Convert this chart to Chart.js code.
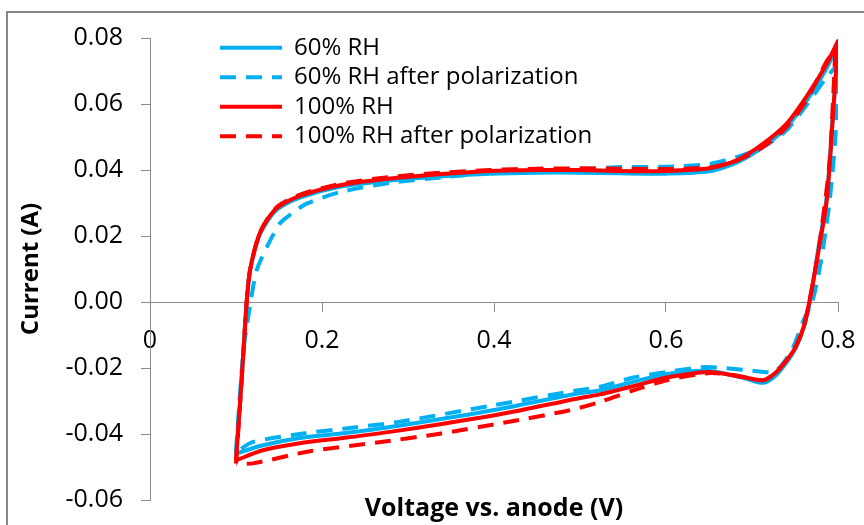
<!DOCTYPE html>
<html><head><meta charset="utf-8">
<script src="https://cdn.jsdelivr.net/npm/chart.js@4"></script>
<style>
html,body{margin:0;padding:0;background:#fff;overflow:hidden;}
#wrap{position:relative;width:864px;height:525px;background:#fff;}
#frame{position:absolute;left:6px;top:11px;width:900px;height:600px;border-left:2px solid #878787;border-top:2px solid #878787;pointer-events:none;}
canvas{display:block;}
</style></head><body>
<div id="wrap"><canvas id="c" width="864" height="525" style="width:864px;height:525px"></canvas><div id="frame"></div></div>
<script>
// ---- data ----
const seriesNames = ['60% RH', '60% RH after polarization', '100% RH', '100% RH after polarization'];
const xTickLabels = ['0', '0.2', '0.4', '0.6', '0.8'];
const yTickLabels = ['-0.06', '-0.04', '-0.02', '0.00', '0.02', '0.04', '0.06', '0.08'];
const xTitle = 'Voltage vs. anode (V)';
const yTitle = 'Current (A)';

const v60 = [0.100, 0.1047, 0.1085, 0.1124, 0.1163, 0.126, 0.136, 0.149, 0.176, 0.221, 0.279, 0.340, 0.395, 0.450, 0.500, 0.547, 0.600, 0.650, 0.682, 0.713, 0.740, 0.763, 0.787, 0.800, 0.800, 0.794, 0.787, 0.777, 0.768, 0.761, 0.751, 0.741, 0.728, 0.713, 0.690, 0.651, 0.601, 0.562, 0.523, 0.496, 0.407, 0.291, 0.225, 0.174, 0.130, 0.100];
const i60 = [-0.0460, -0.0305, -0.0155, 0.0000, 0.0094, 0.0193, 0.0243, 0.0283, 0.0318, 0.0349, 0.0368, 0.0381, 0.0389, 0.0392, 0.0392, 0.0390, 0.0389, 0.0396, 0.0422, 0.0470, 0.0530, 0.0608, 0.0710, 0.0778, 0.0778, 0.0560, 0.0320, 0.0160, 0.0010, -0.0070, -0.0138, -0.0180, -0.0222, -0.0245, -0.0230, -0.0209, -0.0218, -0.0242, -0.0268, -0.0278, -0.0324, -0.0374, -0.0398, -0.0412, -0.0435, -0.0460];

const v60p = [0.100, 0.104, 0.109, 0.117, 0.124, 0.136, 0.151, 0.165, 0.182, 0.221, 0.279, 0.340, 0.395, 0.450, 0.500, 0.547, 0.600, 0.650, 0.682, 0.713, 0.740, 0.763, 0.787, 0.800, 0.800, 0.797, 0.790, 0.780, 0.770, 0.760, 0.748, 0.735, 0.725, 0.700, 0.647, 0.601, 0.562, 0.523, 0.496, 0.399, 0.287, 0.225, 0.180, 0.120, 0.100];
const i60p = [-0.0455, -0.0300, -0.0140, 0.0000, 0.0096, 0.0167, 0.0238, 0.0268, 0.0298, 0.0333, 0.0361, 0.0378, 0.0391, 0.0398, 0.0403, 0.0409, 0.0410, 0.0418, 0.0439, 0.0470, 0.0520, 0.0595, 0.0682, 0.0720, 0.0720, 0.0500, 0.0300, 0.0120, 0.0000, -0.0055, -0.0136, -0.0190, -0.0212, -0.0208, -0.0197, -0.0212, -0.0229, -0.0257, -0.0268, -0.0313, -0.0364, -0.0384, -0.0398, -0.0424, -0.0455];

const v100 = [0.100, 0.1047, 0.1085, 0.1124, 0.1163, 0.126, 0.136, 0.149, 0.176, 0.221, 0.279, 0.340, 0.395, 0.450, 0.500, 0.547, 0.600, 0.650, 0.682, 0.713, 0.740, 0.763, 0.787, 0.800, 0.800, 0.794, 0.787, 0.777, 0.767, 0.760, 0.750, 0.740, 0.727, 0.713, 0.690, 0.651, 0.601, 0.562, 0.523, 0.496, 0.407, 0.291, 0.225, 0.174, 0.130, 0.100];
const i100 = [-0.0480, -0.0308, -0.0156, 0.0000, 0.0096, 0.0197, 0.0248, 0.0288, 0.0323, 0.0354, 0.0374, 0.0388, 0.0397, 0.0400, 0.0400, 0.0397, 0.0397, 0.0405, 0.0429, 0.0480, 0.0540, 0.0621, 0.0722, 0.0791, 0.0791, 0.0560, 0.0310, 0.0150, 0.0005, -0.0076, -0.0140, -0.0177, -0.0215, -0.0237, -0.0228, -0.0212, -0.0229, -0.0255, -0.0280, -0.0293, -0.0340, -0.0389, -0.0412, -0.0428, -0.0450, -0.0480];

const v100p = [0.100, 0.1047, 0.1085, 0.1124, 0.1163, 0.126, 0.136, 0.149, 0.176, 0.221, 0.279, 0.340, 0.395, 0.450, 0.500, 0.547, 0.600, 0.650, 0.682, 0.713, 0.740, 0.763, 0.787, 0.797, 0.797, 0.790, 0.777, 0.767, 0.760, 0.750, 0.740, 0.727, 0.713, 0.680, 0.651, 0.601, 0.562, 0.523, 0.488, 0.411, 0.337, 0.264, 0.186, 0.120, 0.100];
const i100p = [-0.0490, -0.0310, -0.0158, 0.0000, 0.0097, 0.0199, 0.0250, 0.0291, 0.0327, 0.0358, 0.0379, 0.0392, 0.0400, 0.0404, 0.0405, 0.0404, 0.0403, 0.0408, 0.0428, 0.0470, 0.0530, 0.0610, 0.0730, 0.0765, 0.0765, 0.0420, 0.0150, 0.0005, -0.0076, -0.0140, -0.0177, -0.0215, -0.0237, -0.0222, -0.0215, -0.0237, -0.0268, -0.0303, -0.0328, -0.0366, -0.0399, -0.0426, -0.0452, -0.0489, -0.0490];

// ---- chart ----
const BLUE = '#00B0F0', RED = '#FF0000', DASH = [16, 10];
const pts = (xs, ys) => xs.map((x, k) => ({x: x, y: ys[k]}));
const mk = (label, xs, ys, color, dash, order) => ({
  label: label, data: pts(xs, ys), borderColor: color, backgroundColor: color,
  borderWidth: 4, borderDash: dash, showLine: true, pointRadius: 0, pointHoverRadius: 0,
  tension: 0.25, fill: false, order: order, borderCapStyle: 'butt', borderJoinStyle: 'round'
});

const FONT = '"Open Sans", sans-serif';
const legendPlacer = {
  id: 'legendPlacer',
  afterLayout(chart) {
    const lg = chart.legend, ca = chart.chartArea;
    if (!lg) return;
    lg.left = ca.left + 64.5;
    lg.top = ca.top - 7.8;
    lg.right = ca.right;
    lg.bottom = ca.bottom;
  }
};

new Chart(document.getElementById('c'), {
  type: 'scatter',
  data: {
    datasets: [
      mk(seriesNames[0], v60, i60, BLUE, [], 4),
      mk(seriesNames[1], v60p, i60p, BLUE, DASH, 3),
      mk(seriesNames[2], v100, i100, RED, [], 2),
      mk(seriesNames[3], v100p, i100p, RED, DASH, 1)
    ]
  },
  plugins: [legendPlacer],
  options: {
    responsive: false, animation: false, devicePixelRatio: 1,
    layout: {padding: {left: 0, top: 38, right: 26, bottom: 0}},
    plugins: {
      tooltip: {enabled: false},
      legend: {
        position: 'chartArea', align: 'start',
        labels: {
          usePointStyle: true, pointStyle: 'line', pointStyleWidth: 62,
          font: {family: FONT, size: 24}, color: '#000', padding: 5.5,
          sort: (a, b) => a.datasetIndex - b.datasetIndex,
          generateLabels(chart) {
            const items = Chart.defaults.plugins.legend.labels.generateLabels(chart);
            items.forEach(it => {
              const ds = chart.data.datasets[it.datasetIndex];
              it.lineWidth = ds.borderWidth; it.lineDash = ds.borderDash;
              it.strokeStyle = ds.borderColor; it.pointStyle = 'line'; it.lineCap = 'butt';
            });
            return items;
          }
        }
      }
    },
    scales: {
      x: {
        type: 'linear', position: {y: 0}, min: 0, max: 0.8,
        ticks: {stepSize: 0.2, maxRotation: 0, autoSkip: false, padding: 15,
          font: {family: FONT, size: 25}, color: '#000',
          callback: (v, idx) => xTickLabels[idx]},
        grid: {drawOnChartArea: false, drawTicks: true, tickLength: 9, color: '#8c8c8c', lineWidth: 1},
        border: {display: true, color: '#8c8c8c', width: 1},
        afterFit(s) { s.height = 0; s.paddingLeft = 0; s.paddingRight = 0; }
      },
      xt: {
        type: 'linear', axis: 'x', position: 'bottom', min: 0, max: 0.8,
        ticks: {display: false}, grid: {display: false}, border: {display: false},
        title: {display: true, text: xTitle, color: '#000',
          font: {family: FONT, size: 25, weight: 'bold'}, padding: {top: 0, bottom: 1}},
        afterFit(s) { s.height = 25; s.paddingLeft = 0; s.paddingRight = 0; }
      },
      y: {
        type: 'linear', position: 'left', min: -0.06, max: 0.08,
        ticks: {stepSize: 0.02, padding: 18, font: {family: FONT, size: 25}, color: '#000',
          callback: (v, idx) => yTickLabels[idx]},
        grid: {drawOnChartArea: false, drawTicks: true, tickLength: 9, color: '#8c8c8c', lineWidth: 1},
        border: {display: true, color: '#8c8c8c', width: 1},
        title: {display: true, text: yTitle, color: '#000',
          font: {family: FONT, size: 24, weight: 'bold'}, padding: {top: 17, bottom: 0}},
        afterFit(s) { s.width = 150; s.paddingTop = 0; s.paddingBottom = 0; }
      }
    }
  }
});
</script>
</body></html>
